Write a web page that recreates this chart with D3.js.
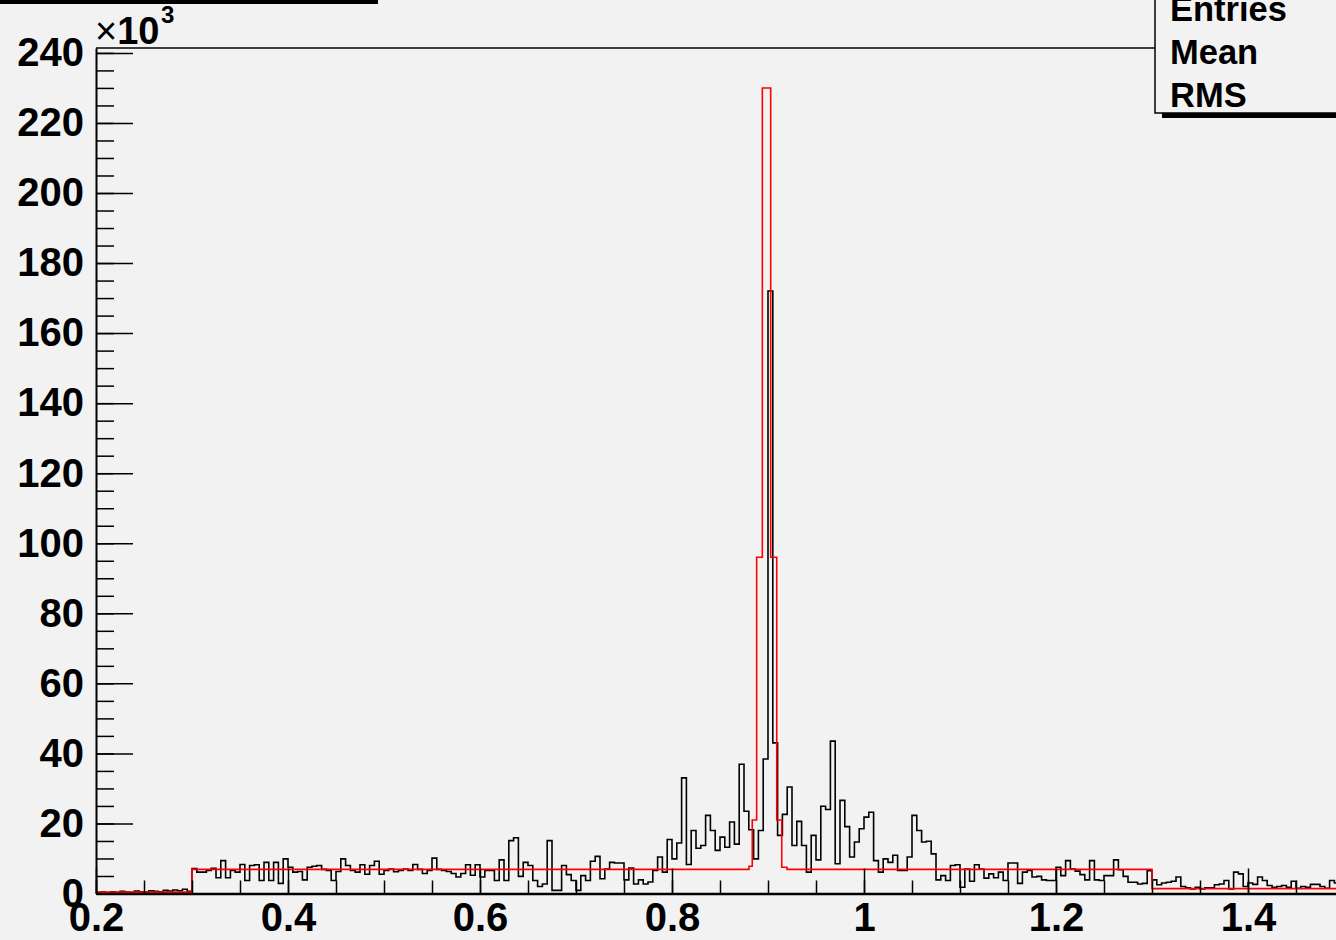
<!DOCTYPE html>
<html>
<head>
<meta charset="utf-8">
<script src="https://cdn.jsdelivr.net/npm/d3@7"></script>
<style>
  body { margin: 0; background: #f2f2f2; }
  svg { display: block; font-family: "Liberation Sans", Arial, Helvetica, sans-serif; }
</style>
</head>
<body>
<script>
// data histogram, bins of 0.005 starting at 0.2 (counts in units of 10^3)
const binStart = 0.2;
const binWidth = 0.005;
const dataCounts = [
  0.3,0.4,0.2,0.5,0.3,0.6,0.4,0.3,0.7,0.5,
  0.4,0.8,0.6,0.5,0.9,0.7,1.0,0.8,1.2,0.6,
  7.1,6.1,6.1,6.6,7.2,4.5,9.4,4.5,6.6,6.1,
  8.3,3.7,8.0,8.2,3.7,8.9,3.7,8.9,2.9,9.9,
  7.5,6.1,6.3,3.9,7.5,7.8,8.0,6.9,6.6,3.7,
  6.3,9.9,8.0,6.6,6.1,8.2,5.5,8.0,9.2,5.5,
  6.6,7.0,6.2,6.6,7.0,6.6,8.3,6.9,5.7,6.6,
  10.1,6.9,6.6,6.3,5.7,4.7,5.7,8.2,5.2,8.2,
  4.7,6.6,6.6,3.7,9.6,3.7,15.1,15.9,4.9,8.9,
  8.0,3.7,2.0,2.7,15.1,0.9,0.9,8.0,5.4,3.7,
  0.9,5.1,3.7,9.2,10.6,4.2,7.0,8.9,8.7,8.7,
  3.9,7.3,2.7,3.9,2.7,3.3,6.6,10.4,6.1,15.4,
  9.9,14.4,33,8.3,18,12.9,13.7,22.3,18,12.3,
  16.1,13.2,20.4,14.1,36.9,23.5,18.2,9.9,18.0,38.4,
  172,43,16.6,22.6,30.4,13.7,20.6,13.7,6.1,16.6,
  9.6,24.9,24.0,43.5,8.5,26.6,19.1,10.4,14.7,18.5,
  21.8,23.2,9.4,6.1,9.9,8.9,10.9,6.6,6.6,10.4,
  22.3,18.0,14.7,14.9,11.3,3.9,5.1,3.7,8.0,8.2,
  1.8,7.0,3.5,8.2,7.0,4.4,5.6,4.5,6.1,3.7,
  8.7,8.7,2.9,6.1,6.6,4.7,4.9,3.9,3.7,3.7,
  7.5,5.1,9.4,7.0,6.4,5.4,3.9,9.4,3.9,3.7,
  5.1,5.1,9.6,6.8,4.9,3.2,3.2,2.7,2.9,6.5,
  3.9,2.5,3.0,3.2,3.5,4.7,2.0,1.6,1.3,1.8,
  1.3,1.6,1.6,2.5,2.7,3.7,1.3,6.1,5.6,2.0,
  3.0,2.6,4.7,3.7,2.3,1.8,2.0,2.3,1.8,3.5,
  1.5,2.0,1.8,2.6,2.6,2.0,1.5,3.7,3.0,2.0
];

// model histogram (red), variable bins
const modelEdges = [0.2, 0.3, 0.8802, 0.8836, 0.8882, 0.8941, 0.9028, 0.9091, 0.9143, 0.9198, 1.3, 1.5];
const modelCounts = [0.4, 6.9, 7.8, 21, 96, 230, 96, 21, 7.5, 6.9, 1.4];

const xTickValues = [0.2, 0.4, 0.6, 0.8, 1.0, 1.2, 1.4];
const xTickLabels = ['0.2', '0.4', '0.6', '0.8', '1', '1.2', '1.4'];
const yTickValues = [0, 20, 40, 60, 80, 100, 120, 140, 160, 180, 200, 220, 240];
const statsLabels = ['Entries', 'Mean', 'RMS'];

const W = 1336, H = 940;
const svg = d3.select('body').append('svg').attr('width', W).attr('height', H);

svg.append('rect').attr('width', W).attr('height', H).attr('fill', '#f2f2f2');

const x = d3.scaleLinear().domain([0.2, 1.5]).range([96, 1344]);
const y = d3.scaleLinear().domain([0, 241.4]).range([893.5, 48]);

svg.append('clipPath').attr('id', 'frame')
   .append('rect').attr('x', x(0.2)).attr('y', y(241.4)).attr('width', x(1.5) - x(0.2)).attr('height', y(0) - y(241.4));

// step outline for a histogram
function stepPath(edges, counts){
    const pts = [[x(edges[0]), y(0)]];
    counts.forEach((c, i) => {
        pts.push([x(edges[i]), y(c)]);
        pts.push([x(edges[i + 1]), y(c)]);
    });
    pts.push([x(edges[edges.length - 1]), y(0)]);
    return d3.line()(pts);
}

const dataEdges = d3.range(dataCounts.length + 1).map(i => binStart + i * binWidth);

const plot = svg.append('g').attr('clip-path', 'url(#frame)');
plot.append('path')
    .attr('d', stepPath(dataEdges, dataCounts))
    .attr('fill', 'none').attr('stroke', '#000').attr('stroke-width', 1.6);
plot.append('path')
    .attr('d', stepPath(modelEdges, modelCounts))
    .attr('fill', 'none').attr('stroke', '#ff0000').attr('stroke-width', 1.6);

// frame top
svg.append('line').attr('x1', x(0.2)).attr('x2', W).attr('y1', y(241.4)).attr('y2', y(241.4))
   .attr('stroke', '#000').attr('stroke-width', 1.5);

// y axis
const yMinor = d3.range(0, 241, 5);
svg.append('g').attr('transform', `translate(${x(0.2)},0)`)
   .call(d3.axisLeft(y).tickValues(yMinor).tickSize(-18).tickSizeOuter(0).tickFormat(''))
   .call(g => g.select('.domain').remove())
   .call(g => g.selectAll('line').attr('stroke-width', 1.5));
svg.append('g').attr('transform', `translate(${x(0.2)},0)`)
   .call(d3.axisLeft(y).tickValues(yTickValues).tickSize(-37).tickSizeOuter(0).tickPadding(12))
   .call(g => g.select('.domain').attr('stroke-width', 2))
   .call(g => g.selectAll('line').attr('stroke-width', 1.5))
   .call(g => g.selectAll('text').attr('font-size', 40).attr('font-weight', 'bold').attr('fill', '#000')
                .attr('font-family', '"Liberation Sans", Arial, sans-serif'));

// x axis
const xMinor = d3.range(0, 27).map(i => 0.2 + i * 0.05);
svg.append('g').attr('transform', `translate(0,${y(0)})`)
   .call(d3.axisBottom(x).tickValues(xMinor).tickSize(-13).tickSizeOuter(0).tickFormat(''))
   .call(g => g.select('.domain').remove())
   .call(g => g.selectAll('line').attr('stroke-width', 1.5));
svg.append('g').attr('transform', `translate(0,${y(0)})`)
   .call(d3.axisBottom(x).tickValues(xTickValues).tickSize(-25).tickSizeOuter(0).tickPadding(9)
          .tickFormat((d, i) => xTickLabels[i]))
   .call(g => g.select('.domain').attr('stroke-width', 2.5))
   .call(g => g.selectAll('line').attr('stroke-width', 1.5))
   .call(g => g.selectAll('text').attr('font-size', 40).attr('font-weight', 'bold').attr('fill', '#000')
                .attr('font-family', '"Liberation Sans", Arial, sans-serif'));

// x10^3 exponent
const expo = svg.append('text').attr('x', 95).attr('y', 44).attr('font-size', 38);
expo.append('tspan').attr('font-weight', 'normal').text('\u00d7');
expo.append('tspan').attr('font-weight', 'bold').text('10');
svg.append('text').attr('x', 161).attr('y', 23).attr('font-size', 24).attr('font-weight', 'bold').text('3');

// title box shadow (top left)
svg.append('rect').attr('x', 0).attr('y', 0).attr('width', 378).attr('height', 4).attr('fill', '#000');

// stats box
svg.append('rect').attr('x', 1162).attr('y', 112).attr('width', 180).attr('height', 6).attr('fill', '#000');
svg.append('rect').attr('x', 1155).attr('y', -10).attr('width', 190).attr('height', 123)
   .attr('fill', '#f2f2f2').attr('stroke', '#000').attr('stroke-width', 1.5);
svg.selectAll('.stat').data(statsLabels).join('text')
   .attr('class', 'stat')
   .attr('x', 1170).attr('y', (d, i) => 21 + i * 43)
   .attr('font-size', 34.5).attr('font-weight', 'bold')
   .text(d => d);
</script>
</body>
</html>
